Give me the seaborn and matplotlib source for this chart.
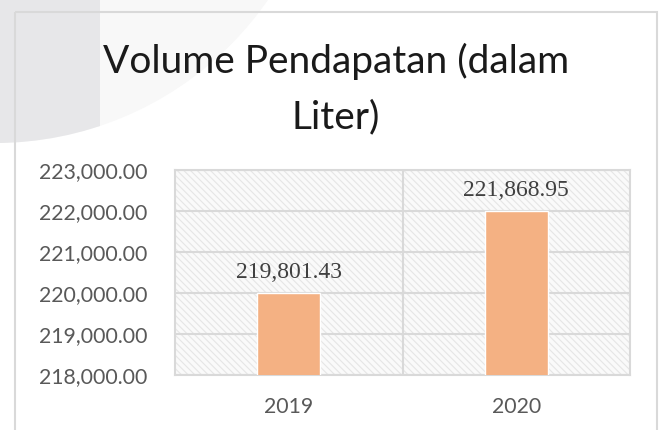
import matplotlib
matplotlib.use("Agg")
import matplotlib.pyplot as plt
import seaborn as sns
import pandas as pd
from matplotlib.patches import Circle, Rectangle

years = ["2019", "2020"]
bar_values = [220000, 222000]
value_labels = ["219,801.43", "221,868.95"]
title_lines = ["Volume Pendapatan (dalam", "Liter)"]
y_ticks = [218000, 219000, 220000, 221000, 222000, 223000]

sns.set_theme(style="white")
plt.rcParams["font.family"] = ["Lato", "DejaVu Sans"]
plt.rcParams["hatch.linewidth"] = 0.8

W, H = 661, 430
fig = plt.figure(figsize=(W / 100, H / 100), dpi=100)
fig.patch.set_facecolor("white")

# background decoration
bg = fig.add_axes([0, 0, 1, 1], zorder=-5)
bg.set_xlim(0, W)
bg.set_ylim(H, 0)
bg.axis("off")
bg.add_patch(Circle((-5, -189), 332, facecolor="#f8f8f8", edgecolor="none"))
dark = Circle((-5, -189), 332, facecolor="#e7e7e9", edgecolor="none")
bg.add_patch(dark)
clip = Rectangle((0, -500), 100, 1000, transform=bg.transData)
dark.set_clip_path(clip)
bg.add_patch(Rectangle((15, 12), 642, 440, facecolor="none", edgecolor="#d9d9d9", lw=1.5))

# main axes
left, right, top, bottom = 175, 630, 170, 375
ax = fig.add_axes([left / W, 1 - bottom / H, (right - left) / W, (bottom - top) / H])
ax.patch.set_alpha(0)
ax.add_patch(Rectangle((0, 0), 1, 1, transform=ax.transAxes, facecolor="#fafafa",
                       edgecolor="#e6e6e6", hatch="\\\\\\\\\\", lw=0, zorder=0))

df = pd.DataFrame({"year": years, "value": bar_values})
sns.barplot(data=df, x="year", y="value", color="#F4B183", saturation=1,
            width=0.277, ax=ax, zorder=3)

ax.set_ylim(218000, 223000)
ax.set_xlim(-0.5, 1.5)
ax.set_yticks(y_ticks)
ax.set_yticklabels([f"{v:,.2f}" for v in y_ticks])
ax.set_xticks(range(len(years)))
ax.set_xticklabels(years)
ax.set_xlabel("")
ax.set_ylabel("")
ax.set_xticks([0.5], minor=True)
ax.grid(True, axis="y", which="major", color="#d9d9d9", lw=1.5, zorder=1)
ax.grid(True, axis="x", which="minor", color="#d9d9d9", lw=1.5, zorder=1)
ax.tick_params(axis="both", which="both", length=0)
ax.tick_params(axis="y", pad=20, labelsize=15.3, labelcolor="#595959")
ax.tick_params(axis="x", pad=16, labelsize=15.3, labelcolor="#595959")
for s in ax.spines.values():
    s.set_visible(True)
    s.set_color("#d9d9d9")
    s.set_linewidth(1.5)
ax.set_axisbelow(True)

for i, (v, lab) in enumerate(zip(bar_values, value_labels)):
    ax.annotate(lab, (i, v), xytext=(0, 7), textcoords="offset points",
                ha="center", va="bottom", fontsize=17, color="#404040",
                family=["Liberation Serif", "DejaVu Serif"])

fig.text(336 / W, 1 - 73 / H, title_lines[0], ha="center", va="baseline",
         fontsize=28, fontweight="normal", color="#1a1a1a")
fig.text(336 / W, 1 - 128 / H, title_lines[1], ha="center", va="baseline",
         fontsize=28, fontweight="normal", color="#1a1a1a")

fig.savefig("out.png", dpi=100)
